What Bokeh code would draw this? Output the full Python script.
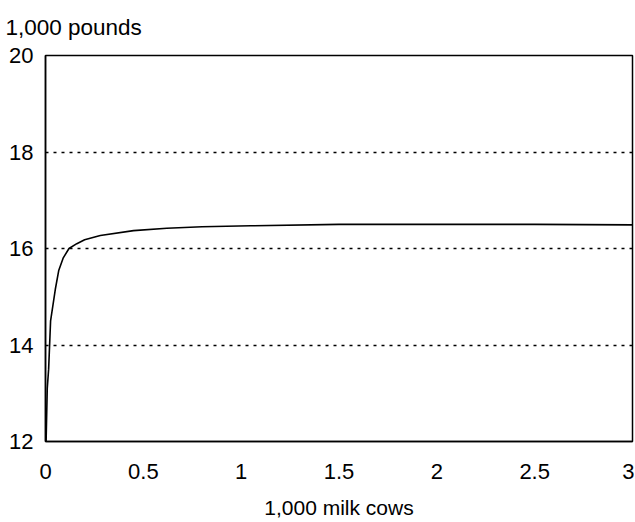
from bokeh.plotting import figure
from bokeh.models import FixedTicker, Range1d, Title
from bokeh.embed import file_html
from bokeh.resources import INLINE

# data
cows = [0.003, 0.009, 0.016, 0.026, 0.05, 0.068, 0.09, 0.12, 0.16, 0.2, 0.28,
        0.45, 0.62, 0.8, 1.05, 1.5, 2.0, 2.5, 3.0]
pounds = [12.0, 13.1, 13.5, 14.5, 15.15, 15.55, 15.8, 16.0, 16.1, 16.18, 16.27,
          16.37, 16.42, 16.45, 16.47, 16.5, 16.5, 16.5, 16.49]
x_ticks = [0, 0.5, 1, 1.5, 2, 2.5, 3]
x_tick_labels = ["0", "0.5", "1", "1.5", "2", "2.5", "3"]
y_ticks = [12, 14, 16, 18, 20]
grid_ticks = [14, 16, 18]

FONT = "Liberation Sans"

p = figure(width=634, height=522, output_backend="svg", toolbar_location=None,
           x_range=Range1d(0, 3), y_range=Range1d(12, 20),
           min_border_left=45, min_border_right=2, min_border_top=54,
           min_border_bottom=81)

p.line(cows, pounds, line_color="black", line_width=1.6)

t = Title(text="1,000 pounds", align="left", offset=-40, standoff=28,
          vertical_align="top",
          text_font=FONT, text_font_size="22.5px", text_font_style="normal",
          text_color="black")
p.add_layout(t, "above")

p.outline_line_color = "black"
p.outline_line_width = 1.5
p.outline_line_alpha = 1.0
p.background_fill_color = "white"
p.border_fill_color = "white"

p.xgrid.visible = False
p.ygrid.ticker = FixedTicker(ticks=grid_ticks)
p.ygrid.grid_line_color = "black"
p.ygrid.grid_line_dash = "3 5"
p.ygrid.grid_line_width = 1.3

p.xaxis.ticker = FixedTicker(ticks=x_ticks)
p.xaxis.major_label_overrides = {t_: l for t_, l in zip(x_ticks, x_tick_labels)}
p.yaxis.ticker = FixedTicker(ticks=y_ticks)

for ax in (p.xaxis, p.yaxis):
    ax.axis_line_color = "black"
    ax.axis_line_width = 1.5
    ax.major_tick_out = 0
    ax.major_tick_in = 0
    ax.minor_tick_out = 0
    ax.minor_tick_in = 0
    ax.major_label_text_font = FONT
    ax.major_label_text_font_size = "22px"
    ax.major_label_text_color = "black"

p.xaxis.major_label_standoff = 22
p.yaxis.major_label_standoff = 12
p.xaxis.axis_label = "1,000 milk cows"
p.xaxis.axis_label_text_font = FONT
p.xaxis.axis_label_text_font_size = "21px"
p.xaxis.axis_label_text_font_style = "normal"
p.xaxis.axis_label_text_color = "black"
p.xaxis.axis_label_standoff = 14

open("out.html", "w").write(file_html(p, INLINE))
